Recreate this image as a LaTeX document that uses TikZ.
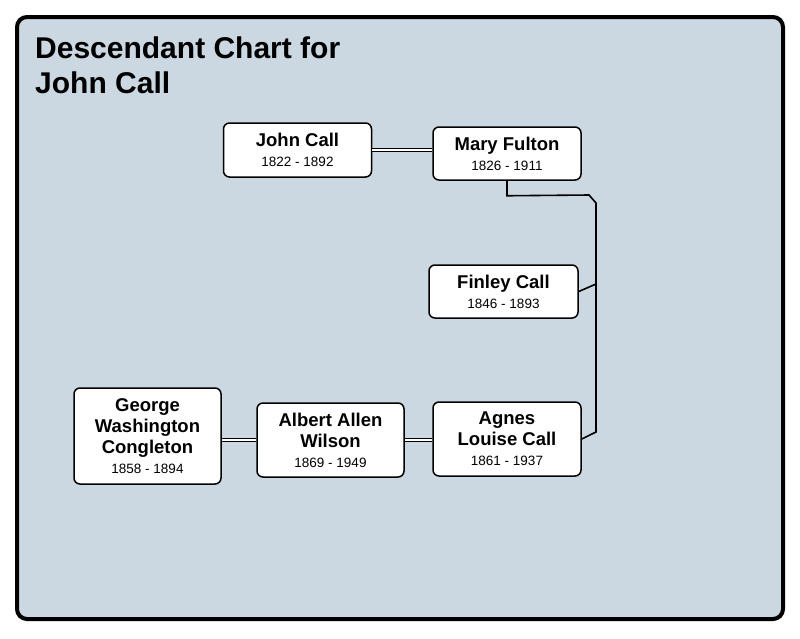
\documentclass[tikz,border=0pt]{standalone}
\usepackage{fontspec}
\setmainfont{Liberation Sans}
\usepackage{xcolor}
\definecolor{damask}{RGB}{203,216,225}
\newcommand{\pname}{\fontsize{18.5}{21}\selectfont\bfseries}
\newcommand{\pdate}{\fontsize{13.5}{17}\selectfont\mdseries}
\newcommand{\chartfont}{\fontsize{30}{35}\selectfont\bfseries}
\tikzset{
person/.style = {rectangle, draw=black, line width=1.5pt, fill=white,
                 rounded corners=6pt, minimum width=#1, minimum height=53pt,
                 inner sep=0pt, align=center, font=\pname},
person/.default = 148pt % width of a person box
}
\tikzset{
wed/.style = {draw=black, line width=1.2pt, double=white, double distance=1.6pt},
kin/.style = {draw=black, line width=1.6pt}
}

\begin{document}
\begin{tikzpicture}[x=1pt, y=-1pt]
  \useasboundingbox (0,0) rectangle (800,638);

  % Frame
    \draw[line width=4pt, rounded corners=10pt, fill=damask] (17,17) rectangle (783,619);
    \node[anchor=base west, align=left, inner sep=0pt, font=\chartfont] (title) at (35,93) {Descendant Chart for\\John Call};

  % Boxes
    \node[person, minimum height=54pt] (johnCall) at (297.5,150) {John Call\\[-1pt]\pdate 1822 - 1892};
    \node[person] (maryFulton) at (507,153.5) {Mary Fulton\\[-1pt]\pdate 1826 - 1911};
    \node[person, minimum width=149pt] (finleyCall) at (503.5,291.5) {Finley Call\\[-1pt]\pdate 1846 - 1893};
    \node[person, minimum height=74pt] (agnesCall) at (507,439) {Agnes\\Louise Call\\[-1pt]\pdate 1861 - 1937};
    \node[person, minimum width=147pt, minimum height=74pt] (albertWilson) at (330.5,440) {Albert Allen\\Wilson\\[-1pt]\pdate 1869 - 1949};
    \node[person, minimum width=147pt, minimum height=96pt] (georgeCongleton) at (147.5,436) {George\\Washington\\Congleton\\[-1pt]\pdate 1858 - 1894};

  % Node
    \coordinate (railTop) at (596,203);
    \coordinate (finleyJoin) at (596,284);
    \coordinate (railEnd) at (596,432);

  % Lines
    \draw[wed] (johnCall.east) -- (johnCall.east -| maryFulton.west);
    \draw[wed] (albertWilson.east) -- (albertWilson.east -| agnesCall.west);
    \draw[wed] (georgeCongleton.east |- albertWilson.west) -- (albertWilson.west);
    \draw[kin] (maryFulton.south) -- ++(0,15) -- (589,195) -- (railTop) -- (railEnd) -- (agnesCall.east);
    \draw[kin] (finleyCall.east) -- (finleyJoin);
\end{tikzpicture}
\end{document}
